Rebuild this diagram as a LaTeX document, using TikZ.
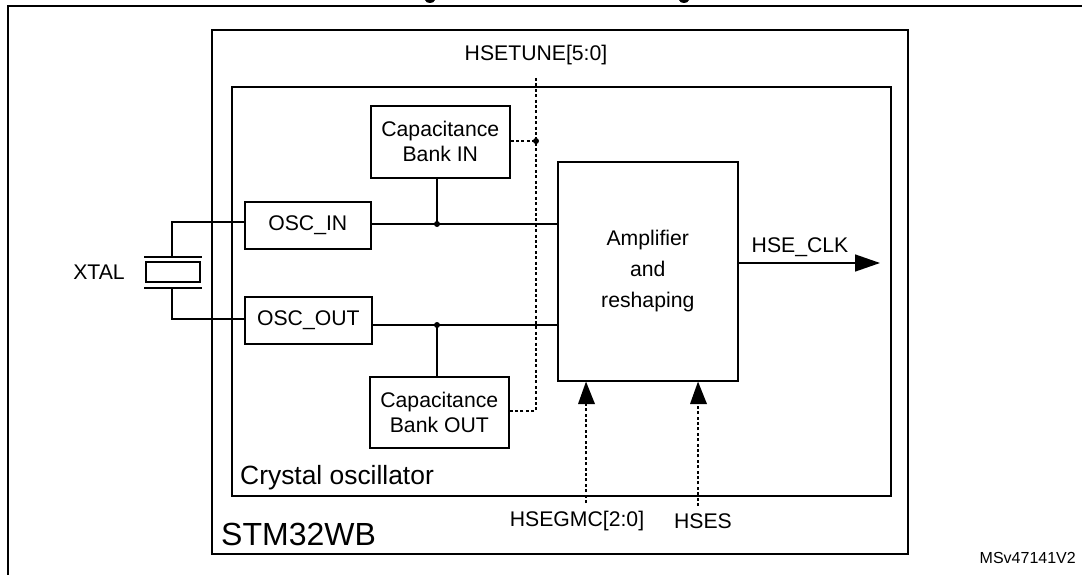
\documentclass[tikz,border=0pt]{standalone}
\usepackage{fontspec}
\setmainfont{Liberation Sans}
\usetikzlibrary{arrows.meta}
\newcommand{\fsz}[1]{\fontsize{#1}{#1}\selectfont}
\tikzset{
  blockbox/.style={draw=black,line width=1.6pt,fill=white,inner sep=0pt,align=center,font=\fsz{21.2},anchor=north west},
  wire/.style={draw=black,line width=1.5pt},
  dotwire/.style={draw=black,line width=1.6pt,dash pattern=on 3pt off 2.4pt},
  junction/.style={circle,fill=black,draw=none,inner sep=0pt,minimum size=6pt},
  lbl/.style={inner sep=0pt,font=\fsz{21.2},align=center},
  solidtip/.style={-{Triangle[length=25pt,width=17pt,fill=black]}},
}
\begin{document}
\begin{tikzpicture}[x=1pt,y=-1pt]
\useasboundingbox (0,0) rectangle (1082,575);
\fill[white] (0,0) rectangle (1082,575);
% title descenders cut by the page edge
\fill (425,0) .. controls (426,4) and (434,4) .. (435,0) -- cycle;
\fill (679,0) .. controls (680,4) and (688,4) .. (689,0) -- cycle;
% outer frame
\draw[line width=2pt] (8,575) -- (8,6) -- (1082,6);
% chip and oscillator frames
\node (chip) [draw=black,line width=1.6pt,minimum width=696pt,minimum height=524pt,inner sep=0pt,anchor=north west] at (211,29) {};
\node (osc) [draw=black,line width=1.6pt,minimum width=659pt,minimum height=409pt,inner sep=0pt,anchor=north west] at (231,86) {};
% blocks
\node (oscin) [blockbox,minimum width=126pt,minimum height=47pt] at (244,201) {OSC\_IN};
\node (oscout) [blockbox,minimum width=127pt,minimum height=47pt] at (244,296) {OSC\_OUT};
\node (capin) [blockbox,minimum width=139pt,minimum height=72pt] at (370,105) {Capacitance\\[4pt]Bank IN};
\node (capout) [blockbox,minimum width=139pt,minimum height=71pt] at (369,376) {Capacitance\\[4pt]Bank OUT};
\node (amp) [blockbox,minimum width=180pt,minimum height=219pt] at (557,161) {Amplifier\\[10pt]and\\[10pt]reshaping};
% crystal
\node (xbody) [draw=black,line width=1.5pt,minimum width=54pt,minimum height=20pt,inner sep=0pt] at (173,272) {};
\coordinate (ptl) at (144,257);
\coordinate (ptr) at (202,257);
\coordinate (pbl) at (144,288);
\coordinate (pbr) at (202,288);
\coordinate (pt) at (172,257);
\coordinate (pb) at (172,288);
\draw[wire] (ptl) -- (ptr);
\draw[wire] (pbl) -- (pbr);
\draw[wire] (pt) |- (oscin.west |- 0,222);
\draw[wire] (pb) |- (oscout.west |- 0,319);
% signal wires
\coordinate (jin) at (437,224);
\coordinate (jout) at (437,325);
\draw[wire] (oscin.east |- jin) -- (amp.west |- jin);
\draw[wire] (oscout.east |- jout) -- (amp.west |- jout);
\draw[wire] (capin.south -| jin) -- (jin);
\draw[wire] (capout.north -| jout) -- (jout);
\node (jinDot) [junction] at (jin) {};
\node (joutDot) [junction] at (jout) {};
% HSETUNE bus
\coordinate (tunetop) at (536,78);
\coordinate (tunebot) at (536,411);
\coordinate (jtune) at (536,141);
\draw[dotwire] (tunetop) -- (tunebot) -- (capout.east |- tunebot);
\draw[dotwire] (capin.east |- jtune) -- (jtune);
\node (jtuneDot) [junction] at (jtune) {};
% control arrows
\coordinate (gmcfoot) at (586,503);
\coordinate (hsesfoot) at (698,506);
\draw[dotwire] (gmcfoot) -- (586,404);
\draw[dotwire] (hsesfoot) -- (698,404);
\fill (amp.south -| gmcfoot) -- (578,404) -- (595,404) -- cycle;
\fill (amp.south -| hsesfoot) -- (690,404) -- (707,404) -- cycle;
% output
\coordinate (clkend) at (880,263);
\draw[wire,solidtip] (amp.east |- clkend) -- (clkend);
% labels
\node (tunelbl) [lbl] at (536,55) {HSETUNE[5:0]};
\node (gmclbl) [lbl] at (577,521) {HSEGMC[2:0]};
\node (hseslbl) [lbl] at (703,521) {HSES};
\node (clklbl) [lbl] at (800,247) {HSE\_CLK};
\node (xtallbl) [lbl] at (99,272) {XTAL};
\node (osclbl) [lbl,anchor=west,font=\fsz{26.4}] at (240,478) {Crystal oscillator};
\node (chiplbl) [lbl,anchor=west,font=\fsz{32}] at (221,534) {STM32WB};
\node (reflbl) [lbl,anchor=east,font=\fsz{16}] at (1076,558) {MSv47141V2};
\end{tikzpicture}
\end{document}
